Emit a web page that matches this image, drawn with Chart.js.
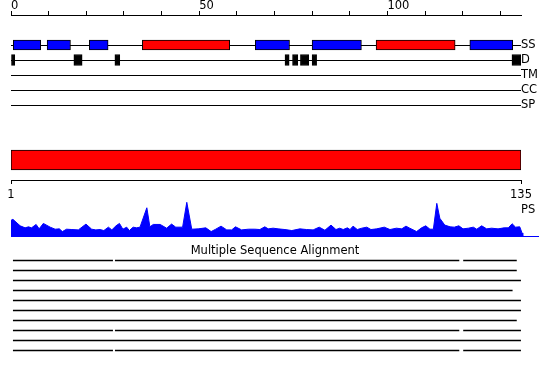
<!DOCTYPE html>
<html>
<head>
<meta charset="utf-8">
<script src="https://cdn.jsdelivr.net/npm/chart.js@4.4.1/dist/chart.umd.min.js"></script>
<style>
  html, body { margin: 0; padding: 0; background: #fff; }
  #wrap { position: relative; width: 550px; height: 380px; overflow: hidden; }
  #wrap canvas { position: absolute; left: 0; }
  #ps-label { position: absolute; left: 521px; top: 202px; font: 11.5px "DejaVu Sans", sans-serif; line-height: 14px; color: #000; }
</style>
</head>
<body>
<div id="wrap">
  <canvas id="trackChart" width="550" height="115" style="top:0"></canvas>
  <canvas id="seqChart" width="550" height="65" style="top:140px"></canvas>
  <canvas id="psChart" width="550" height="40" style="top:200px"></canvas>
  <span id="ps-label">PS</span>
  <canvas id="msaChart" width="550" height="120" style="top:240px"></canvas>
</div>
<script>
const trackLabels = ["", " ", "SS", "D", "TM", "CC", "SP"];
const topTickLabels = [0, 50, 100];

// secondary structure segments (E = strand, H = helix)
const ssStart = [0.6, 9.6, 20.8, 34.9, 64.9, 80.0, 97.0, 121.9];
const ssEnd = [7.9, 15.8, 25.8, 58.1, 74.0, 93.1, 118.0, 133.3];
const ssType = ["E", "E", "E", "H", "E", "E", "H", "E"];

// disordered regions
const disStart = [0, 16.7, 27.6, 72.8, 74.8, 76.9, 80.0, 133.1];
const disEnd = [1.0, 18.9, 28.9, 73.9, 76.2, 79.1, 81.2, 135.5];

const seqTicks = [1, 135];

// PS profile
const psPos = [1.0, 1.5, 3.4, 4.7, 5.6, 6.4, 7.6, 8.4, 9.5, 11.3, 12.6, 13.7, 14.5, 15.6, 17.0, 18.7,
  20.7, 22.2, 23.3, 24.4, 25.4, 26.6, 27.5, 28.6, 29.5, 30.4, 31.4, 32.1, 33.1, 34.0, 34.9, 36.7,
  37.5, 38.4, 40.2, 41.9, 43.2, 44.3, 46.1, 47.2, 48.5, 50.2, 52.2, 53.6, 54.8, 56.2, 57.7, 59.0,
  60.0, 61.6, 63.4, 65.1, 66.4, 67.7, 68.6, 69.9, 71.2, 73.0, 74.8, 76.9, 78.7, 80.4, 82.0, 83.5,
  85.1, 86.4, 87.4, 88.3, 89.4, 90.1, 90.9, 92.0, 93.2, 94.5, 95.6, 97.1, 99.1, 100.6, 102.3, 103.7,
  104.8, 105.8, 107.6, 108.9, 110.0, 111.1, 112.0, 112.9, 113.7, 115.0, 116.4, 117.5, 118.7, 119.8,
  121.2, 122.5, 123.4, 124.7, 126.0, 127.3, 129.0, 130.6, 131.7, 132.7, 133.6, 134.7, 135.3, 135.5];
const psVal = [0.46, 0.49, 0.30, 0.24, 0.27, 0.24, 0.34, 0.21, 0.37, 0.26, 0.20, 0.21, 0.13, 0.20, 0.19, 0.18,
  0.35, 0.20, 0.18, 0.19, 0.16, 0.26, 0.18, 0.30, 0.37, 0.20, 0.26, 0.16, 0.26, 0.24, 0.26, 0.83,
  0.27, 0.34, 0.34, 0.23, 0.35, 0.26, 0.26, 0.99, 0.20, 0.21, 0.24, 0.13, 0.20, 0.29, 0.18, 0.18,
  0.27, 0.18, 0.20, 0.20, 0.19, 0.27, 0.21, 0.23, 0.21, 0.19, 0.16, 0.21, 0.19, 0.18, 0.26, 0.17,
  0.32, 0.19, 0.23, 0.19, 0.24, 0.19, 0.29, 0.19, 0.23, 0.26, 0.19, 0.21, 0.26, 0.19, 0.23, 0.21,
  0.29, 0.23, 0.13, 0.24, 0.30, 0.20, 0.20, 0.96, 0.52, 0.32, 0.27, 0.26, 0.30, 0.21,
  0.23, 0.26, 0.20, 0.30, 0.21, 0.23, 0.21, 0.24, 0.24, 0.36, 0.26, 0.27, 0.09, 0];

// multiple sequence alignment hits
const msaRow = [1, 1, 1, 2, 3, 4, 5, 6, 7, 8, 8, 8, 9, 10, 10, 10];
const msaStart = [1.6, 28.4, 119.9, 1.6, 1.6, 1.6, 1.6, 1.6, 1.6, 1.6, 28.4, 119.9, 1.6, 1.6, 28.4, 119.9];
const msaEnd = [27.7, 118.7, 133.8, 133.8, 134.9, 132.7, 134.9, 134.9, 133.8, 27.7, 118.7, 134.9, 134.9, 27.7, 118.7, 134.9];

Chart.defaults.font.family = "'DejaVu Sans', sans-serif";
Chart.defaults.font.size = 11.5;
Chart.defaults.color = "#000";
Chart.defaults.animation = false;
Chart.defaults.plugins.legend.display = false;
Chart.defaults.plugins.tooltip.enabled = false;

const noPad = (scale) => {
  scale.paddingLeft = 0;
  scale.paddingRight = 0;
  scale.paddingTop = 0;
  scale.paddingBottom = 0;
};

const ssBars = (type) =>
  ssStart
    .map((s, i) => ({ y: "SS", x: [s, ssEnd[i]], t: ssType[i] }))
    .filter((d) => d.t === type);

document.addEventListener("DOMContentLoaded", () => {
  new Chart(document.getElementById("trackChart"), {
    type: "bar",
    data: {
      labels: trackLabels,
      datasets: [
        { label: "Strand", data: ssBars("E"), backgroundColor: "#0000ff", barThickness: 10 },
        { label: "Helix", data: ssBars("H"), backgroundColor: "#ff0000", barThickness: 10 },
        {
          label: "Disorder",
          data: disStart.map((s, i) => ({ y: "D", x: [s, disEnd[i]] })),
          backgroundColor: "#000000",
          barThickness: 11,
        },
      ],
    },
    options: {
      responsive: false,
      indexAxis: "y",
      layout: { padding: { left: 11, right: 0, top: 0, bottom: 10 } },
      datasets: { bar: { grouped: false, borderColor: "#000", borderWidth: 1, borderSkipped: false } },
      scales: {
        x: {
          type: "linear",
          position: "top",
          min: 0,
          max: 135.5,
          ticks: {
            stepSize: 10,
            includeBounds: false,
            align: "start",
            padding: -2,
            maxRotation: 0,
            autoSkip: false,
            callback: (v) => (topTickLabels.includes(v) ? String(v) : ""),
          },
          grid: { drawOnChartArea: false, tickLength: 4, color: "#000" },
          border: { color: "#000" },
          afterFit: (s) => {
            noPad(s);
            s.height = 15;
          },
        },
        y: {
          type: "category",
          position: "right",
          offset: false,
          grid: {
            offset: false,
            color: (c) => (c.index >= 2 ? "#000" : "rgba(0,0,0,0)"),
            drawTicks: false,
          },
          border: { display: false },
          ticks: { padding: 0, autoSkip: false },
          afterFit: (s) => {
            noPad(s);
            s.width = 29;
          },
        },
      },
    },
  });

  new Chart(document.getElementById("seqChart"), {
    type: "bar",
    data: {
      labels: ["seq"],
      datasets: [
        {
          label: "Sequence",
          data: [{ y: "seq", x: [seqTicks[0], seqTicks[1]] }],
          backgroundColor: "#ff0000",
          borderColor: "#000",
          borderWidth: 1,
          borderSkipped: false,
          barThickness: 20,
        },
      ],
    },
    options: {
      responsive: false,
      indexAxis: "y",
      layout: { padding: { left: 11, right: 29, top: 0, bottom: 0 } },
      scales: {
        x: {
          type: "linear",
          min: seqTicks[0],
          max: seqTicks[1],
          afterBuildTicks: (s) => {
            s.ticks = seqTicks.map((v) => ({ value: v }));
          },
          ticks: { padding: 4, maxRotation: 0, autoSkip: false },
          grid: { drawOnChartArea: false, tickLength: 4, color: "#000" },
          border: { color: "#000" },
          afterFit: (s) => {
            noPad(s);
            s.height = 25;
          },
        },
        y: { type: "category", offset: true, display: false },
      },
    },
  });

  new Chart(document.getElementById("psChart"), {
    type: "line",
    data: {
      datasets: [
        {
          label: "PS",
          data: psPos.map((x, i) => ({ x: x, y: psVal[i] })),
          borderColor: "#0000ff",
          backgroundColor: "#0000ff",
          borderWidth: 1,
          fill: "origin",
          pointRadius: 0,
          tension: 0,
        },
      ],
    },
    options: {
      responsive: false,
      layout: { padding: { left: 11, right: 12, top: 2, bottom: 4 } },
      scales: {
        x: {
          type: "linear",
          min: 1,
          max: 139.5,
          ticks: { display: false },
          grid: { display: false, drawTicks: false },
          border: { color: "#0000ff" },
          afterFit: (s) => {
            noPad(s);
            s.height = 0;
          },
        },
        y: { min: 0, max: 1, display: false },
      },
    },
  });

  new Chart(document.getElementById("msaChart"), {
    type: "bar",
    data: {
      datasets: [
        {
          label: "Alignment",
          data: msaRow.map((r, i) => ({ y: r, x: [msaStart[i], msaEnd[i]] })),
          backgroundColor: "#000",
          barThickness: 1,
          grouped: false,
        },
      ],
    },
    options: {
      responsive: false,
      indexAxis: "y",
      layout: { padding: 0 },
      plugins: {
        title: {
          display: true,
          text: "Multiple Sequence Alignment",
          color: "#000",
          font: { size: 11.5, weight: "normal", lineHeight: 1.2 },
          padding: { top: 4, bottom: 0 },
        },
      },
      scales: {
        x: { type: "linear", min: -1.89, max: 142.62, display: false },
        y: { type: "linear", reverse: true, offset: false, min: 0.73, max: 10.95, display: false },
      },
    },
  });
});
</script>
</body>
</html>
